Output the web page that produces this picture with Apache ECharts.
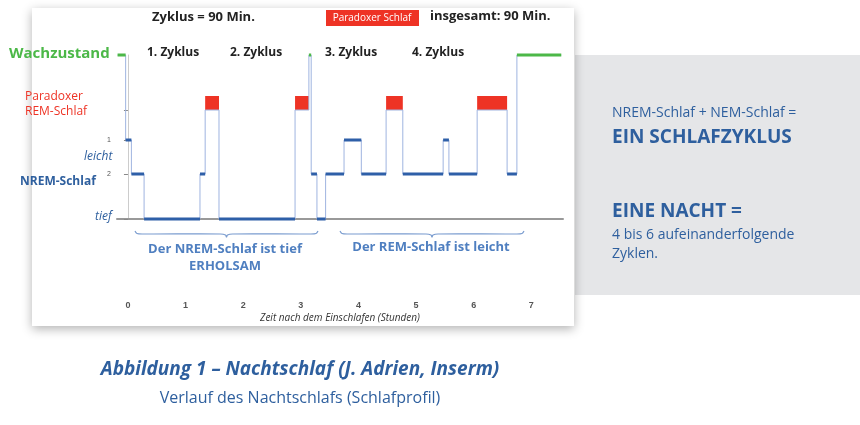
<!DOCTYPE html>
<html>
<head>
<meta charset="utf-8"/>
<title>Nachtschlaf</title>
<script src="https://cdn.jsdelivr.net/npm/echarts@6/dist/echarts.min.js"></script>
<style>html,body{margin:0;padding:0;background:#fff}#chart{width:860px;height:425px}</style>
</head>
<body>
<div id="chart"></div>
<script type="text/javascript">
// Zeitpunkte der Stadienwechsel (Stunden) und Stadium jedes Abschnitts
var times = [-0.18,-0.04,0.06,0.28,1.25,1.34,1.58,2.90,3.14,3.18,3.28,3.43,3.75,4.05,4.48,4.77,5.47,5.57,6.06,6.58,6.75,7.52];
var stages = ['W','N1','N2','N3','N2','REM','N3','REM','W','N2','N3','N2','N1','N2','REM','N2','N1','N2','REM','N2','W'];
var levels = {W:164, REM:109, N1:79, N2:45, N3:0};
var remTop = 123;
var hourTicks = [0,1,2,3,4,5,6,7];
var cycleLabels = ['1. Zyklus','2. Zyklus','3. Zyklus','4. Zyklus'];

var stepData = [];
for (var i = 0; i < stages.length; i++) stepData.push([times[i], levels[stages[i]]]);
stepData.push([times[times.length-1], levels[stages[stages.length-1]]]);

function segs(filter){
  var d = [];
  for (var i = 0; i < stages.length; i++) {
    if (filter.indexOf(stages[i]) < 0) continue;
    d.push([times[i], levels[stages[i]]]); d.push([times[i+1], levels[stages[i]]]); d.push(null);
  }
  return d;
}
var remAreas = [];
for (var i = 0; i < stages.length; i++) {
  if (stages[i] == 'REM') remAreas.push([{coord:[times[i], levels.REM]}, {coord:[times[i+1], remTop]}]);
}
function brace(x0, x1, y){
  var m = (x0 + x1) / 2;
  return [[x0,y-3],[x0+2,y-0.5],[x0+8,y],[m-6,y],[m-1,y+1],[m,y+3],[m+1,y+1],[m+6,y],[x1-8,y],[x1-2,y-0.5],[x1,y-3]];
}

var blue = '#2e5fa8', txt = '#2e5f9e';
var myChart = echarts.init(document.getElementById('chart'));
var option = {
  animation:false,
  grid:{left:117, right:297, top:55, bottom:206},
  xAxis:{type:'value', min:-0.19, max:7.55, offset:74,
    axisLine:{lineStyle:{color:'#999',width:2}}, axisTick:{show:false}, splitLine:{show:false},
    axisLabel:{customValues:hourTicks, color:'#555', fontSize:9, fontWeight:'bold', margin:8},
    name:'Zeit nach dem Einschlafen (Stunden)', nameLocation:'middle', nameGap:20,
    nameTextStyle:{fontStyle:'italic', fontSize:10, color:'#333', fontFamily:'Open Sans'}},
  yAxis:{type:'value', min:0, max:164, splitLine:{show:false},
    axisLine:{show:true, lineStyle:{color:'#ccc'}},
    axisTick:{customValues:[0,45,79,109], length:4, lineStyle:{color:'#888'}},
    axisLabel:{customValues:[45,79], fontSize:7, color:'#555', margin:6,
      formatter:function(v){return v==79?'1':(v==45?'2':'');}}},
  series:[
    {type:'line', data:stepData, step:'end', symbol:'none', lineStyle:{color:'#9fb4e0', width:1}, z:1,
     markArea:{silent:true, itemStyle:{color:'#ee3325', opacity:1}, data:remAreas}},
    {type:'line', data:segs(['N1','N2','N3']), symbol:'none', connectNulls:false, clip:false, lineStyle:{color:blue, width:3}, z:3},
    {type:'line', data:segs(['W']), symbol:'none', connectNulls:false, clip:false, lineStyle:{color:'#4cb848', width:3}, z:3}
  ],
  graphic:[
    {type:'rect', z:-10, shape:{x:575,y:55,width:285,height:240}, style:{fill:'#e5e6e8'}},
    {type:'rect', z:-9, shape:{x:32,y:8,width:542,height:318}, style:{fill:'#fff', shadowBlur:10, shadowColor:'rgba(0,0,0,0.3)', shadowOffsetY:3}},
    {type:'text', x:152, y:11, style:{text:'Zyklus = 90 Min.', font:'bold 13px "Open Sans"', fill:'#222'}},
    {type:'rect', shape:{x:326,y:10,width:93,height:16}, style:{fill:'#ee3325'}},
    {type:'text', x:372, y:18, style:{text:'Paradoxer Schlaf', font:'10px "Open Sans"', fill:'#fff', align:'center', verticalAlign:'middle'}},
    {type:'text', x:430, y:10, style:{text:'insgesamt: 90 Min.', font:'bold 13px "Open Sans"', fill:'#222'}},
    {type:'text', x:147, y:47, style:{text:cycleLabels[0], font:'bold 12px "Open Sans"', fill:'#222'}},
    {type:'text', x:230, y:47, style:{text:cycleLabels[1], font:'bold 12px "Open Sans"', fill:'#222'}},
    {type:'text', x:325, y:47, style:{text:cycleLabels[2], font:'bold 12px "Open Sans"', fill:'#222'}},
    {type:'text', x:412, y:47, style:{text:cycleLabels[3], font:'bold 12px "Open Sans"', fill:'#222'}},
    {type:'text', x:9, y:46, style:{text:'Wachzustand', font:'bold 15px "Open Sans"', fill:'#4cb848'}},
    {type:'text', x:25, y:89, style:{text:'Paradoxer\nREM-Schlaf', font:'12px "Open Sans"', fill:'#ee3325', lineHeight:15}},
    {type:'text', x:84, y:151, style:{text:'leicht', font:'italic 12px "Open Sans"', fill:txt}},
    {type:'text', x:20, y:176, style:{text:'NREM-Schlaf', font:'bold 12px "Open Sans"', fill:txt}},
    {type:'text', x:95, y:211, style:{text:'tief', font:'italic 12px "Open Sans"', fill:txt}},
    {type:'polyline', shape:{points:brace(135,318,234), smooth:0.3}, style:{fill:'none', stroke:'#7a9ccf', lineWidth:1.2}},
    {type:'polyline', shape:{points:brace(340,524,234), smooth:0.3}, style:{fill:'none', stroke:'#7a9ccf', lineWidth:1.2}},
    {type:'text', x:225, y:241, style:{text:'Der NREM-Schlaf ist tief\nERHOLSAM', font:'bold 13px "Open Sans"', fill:'#4f7fc0', align:'center', lineHeight:17}},
    {type:'text', x:431, y:241, style:{text:'Der REM-Schlaf ist leicht', font:'bold 13px "Open Sans"', fill:'#4f7fc0', align:'center'}},
    {type:'text', x:612, y:106, style:{text:'NREM-Schlaf + NEM-Schlaf =', font:'14px "Open Sans"', fill:txt}},
    {type:'text', x:612, y:128, style:{text:'EIN SCHLAFZYKLUS', font:'bold 19px "Open Sans"', fill:txt}},
    {type:'text', x:612, y:202, style:{text:'EINE NACHT =', font:'bold 19px "Open Sans"', fill:txt}},
    {type:'text', x:612, y:226, style:{text:'4 bis 6 aufeinanderfolgende\nZyklen.', font:'14px "Open Sans"', fill:txt, lineHeight:19}},
    {type:'text', x:300, y:360, style:{text:'Abbildung 1 \u2013 Nachtschlaf (J. Adrien, Inserm)', font:'italic bold 19px "Open Sans"', fill:txt, align:'center'}},
    {type:'text', x:300, y:390, style:{text:'Verlauf des Nachtschlafs (Schlafprofil)', font:'16px "Open Sans"', fill:txt, align:'center'}}
  ]
};
myChart.setOption(option);
</script>
</body>
</html>
